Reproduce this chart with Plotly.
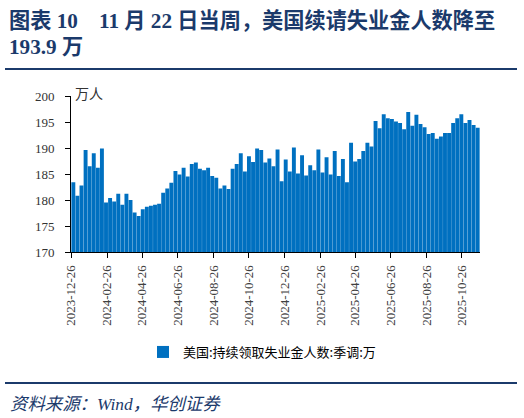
import plotly.graph_objects as go
import pandas as pd

W, H = 524, 418
ML, MR, MT, MB = 71, 44, 96, 166

# Weekly (Saturday) dates, 2023-12-30 .. 2025-11-22
dates = pd.date_range("2023-12-30", periods=100, freq="7D")

claims = [
    183.4, 180.8, 182.8, 189.6, 186.5, 189.0, 186.2, 189.9, 179.5, 180.4,
    179.7, 181.2, 179.1, 181.2, 180.0, 177.6, 176.9, 178.2, 178.7, 178.9,
    179.1, 179.3, 181.4, 182.2, 183.3, 185.6, 184.9, 186.2, 184.5, 186.9,
    187.2, 186.0, 185.7, 186.2, 184.6, 184.3, 182.2, 182.8, 182.1, 186.0,
    186.9, 189.0, 185.5, 188.4, 187.3, 189.9, 189.6, 187.2, 188.0, 186.5,
    189.7, 183.6, 187.8, 185.5, 190.1, 185.1, 188.6, 184.7, 186.7, 185.7,
    189.7, 185.3, 188.2, 184.9, 189.4, 184.6, 187.9, 183.4, 191.0, 187.4,
    187.9, 189.4, 191.0, 190.3, 195.2, 193.8, 196.5, 195.7, 195.6, 195.1,
    194.8, 193.6, 196.9, 194.3, 196.4, 194.6, 194.0, 192.7, 192.9, 191.8,
    192.2, 192.9, 192.9, 194.8, 195.7, 196.5, 194.8, 195.4, 194.4, 193.9,
]

tick_dates = ["2023-12-26", "2024-02-26", "2024-04-26", "2024-06-26",
              "2024-08-26", "2024-10-26", "2024-12-26", "2025-02-26",
              "2025-04-26", "2025-06-26", "2025-08-26", "2025-10-26"]
y_ticks = [170, 175, 180, 185, 190, 195, 200]

series_name = "美国:持续领取失业金人数:季调:万"
title1 = "图表 10\u00a0\u00a0\u00a0 11 月 22 日当周，美国续请失业金人数降至"
title2 = "193.9 万"
source = "资料来源：Wind，华创证券"
unit = "万人"

NAVY = "#1b3a6b"
BLUE = "#0070C0"

pw = W - ML - MR
ph = H - MT - MB


def px(x):
    return (x - ML) / pw


def py(y):
    return (H - MB - y) / ph


fig = go.Figure()
fig.add_trace(go.Bar(x=dates, y=claims, name=series_name,
                     marker=dict(color=BLUE, line=dict(width=0))))

fig.update_layout(
    width=W, height=H,
    margin=dict(l=ML, r=MR, t=MT, b=MB, pad=0),
    paper_bgcolor="white", plot_bgcolor="white",
    bargap=0.04,
    showlegend=True,
    legend=dict(orientation="h", xref="container", yref="container",
                x=0.5, xanchor="center", y=(H - 352) / H, yanchor="middle",
                font=dict(family="Noto Sans CJK SC", size=13, color="#000"),
                itemwidth=30, bgcolor="rgba(0,0,0,0)"),
    xaxis=dict(type="date", range=["2023-12-26", "2025-11-26"],
               tickmode="array", tickvals=tick_dates, ticktext=tick_dates,
               tickangle=-90, ticks="outside", ticklen=5, tickcolor="#000",
               showline=True, linecolor="#000", linewidth=1,
               showgrid=False, zeroline=False, ticklabelstandoff=2,
               tickfont=dict(family="Liberation Serif", size=13, color="#404040")),
    yaxis=dict(range=[170, 200], tickvals=y_ticks,
               ticks="outside", ticklen=5, tickcolor="#000",
               showline=True, linecolor="#000", linewidth=1,
               showgrid=False, zeroline=False, ticklabelstandoff=8,
               tickfont=dict(family="Liberation Serif", size=13, color="#333")),
)

annos = [
    dict(text="<b>" + title1 + "</b>", x=px(7), y=py(20), xanchor="left", yanchor="middle",
         font=dict(family="Liberation Serif, Noto Sans CJK SC", size=21.2, color=NAVY)),
    dict(text="<b>" + title2 + "</b>", x=px(7), y=py(47), xanchor="left", yanchor="middle",
         font=dict(family="Liberation Serif, Noto Sans CJK SC", size=21.2, color=NAVY)),
    dict(text=unit, x=px(73), y=py(93), xanchor="left", yanchor="middle",
         font=dict(family="Noto Sans CJK SC", size=14, color="#333")),
    dict(text="<i>" + source + "</i>", x=px(8), y=py(404), xanchor="left", yanchor="middle",
         font=dict(family="Liberation Serif, Noto Sans CJK SC", size=17.4, color=NAVY)),
]
for a in annos:
    a.update(xref="paper", yref="paper", showarrow=False)
fig.update_layout(annotations=annos)

for yy in (69, 383):
    fig.add_shape(type="line", xref="paper", yref="paper",
                  x0=px(5), x1=px(517), y0=py(yy), y1=py(yy),
                  line=dict(color=NAVY, width=2))

fig.write_html("out.html")
